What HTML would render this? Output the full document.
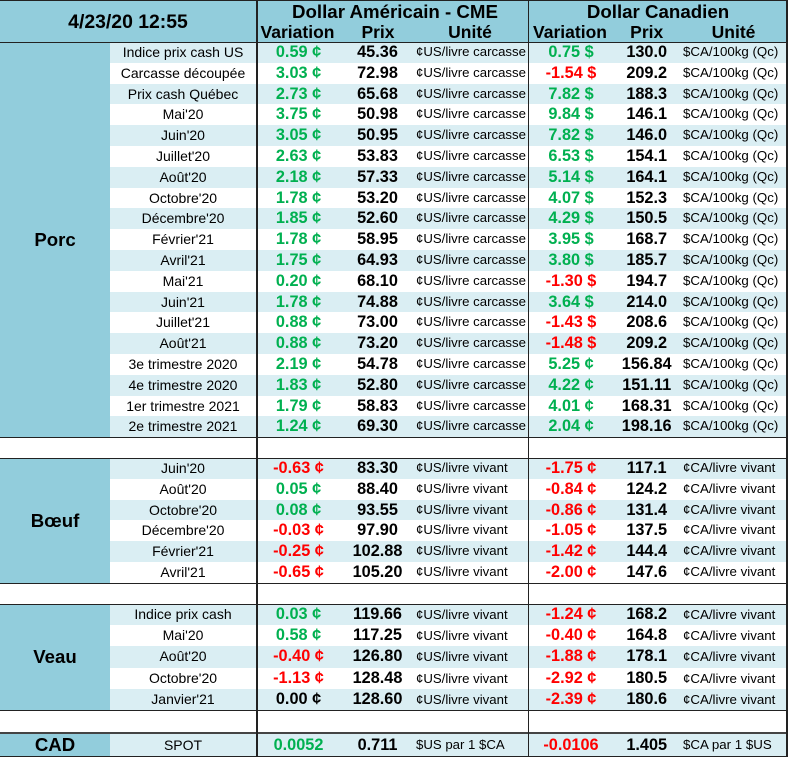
<!DOCTYPE html>
<html><head><meta charset="utf-8"><style>
*{margin:0;padding:0;box-sizing:border-box}
html,body{width:789px;height:757px;background:#fff;overflow:hidden}
body{position:relative;font-family:"Liberation Sans",Arial,sans-serif;color:#000}
.abs{position:absolute}
.hd{position:absolute;left:0;top:0;width:786px;height:42px;background:#92CDDC}
.ht{position:absolute;font-weight:bold;white-space:nowrap;text-align:center}
.lab{position:absolute;left:0;width:110px;background:#92CDDC;display:flex;align-items:center;justify-content:center;font-weight:bold;font-size:18.6px}
.r{position:absolute;left:110px;width:676px;height:20.8px;line-height:20.8px;white-space:nowrap}
.a{background:#DAEEF3}
.r span{position:absolute;top:0}
.n{left:0;width:146px;text-align:center;font-size:14px}
.v1{left:148px;width:81px;text-align:center;font-weight:bold;font-size:16.3px}
.p1{left:235px;width:65px;text-align:center;font-weight:bold;font-size:16.3px}
.u1{left:306px;font-size:13.2px}
.v2{left:420px;width:82px;text-align:center;font-weight:bold;font-size:16.3px}
.p2{left:504px;width:65.4px;text-align:center;font-weight:bold;font-size:16.3px}
.u2{left:573px;font-size:13.3px}
.g{color:#00B050}
.d{color:#FF0000}
.hl{position:absolute;left:0;width:787px;height:1px;background:#222}
.vl{position:absolute;top:0;width:1.5px;height:757px;background:#222}
</style></head><body>
<div class="hd"></div>
<div class="ht" style="left:0;width:256px;top:1px;height:42px;line-height:42px;font-size:19.4px">4/23/20 12:55</div>
<div class="ht" style="left:292px;width:200px;top:0.5px;height:22px;line-height:22px;font-size:18.7px">Dollar Américain - CME</div>
<div class="ht" style="left:558px;width:200px;top:0.5px;height:22px;line-height:22px;font-size:18.7px">Dollar Canadien</div>
<div class="ht" style="left:247.5px;width:100px;top:21.5px;height:20px;line-height:20px;font-size:17.5px">Variation</div>
<div class="ht" style="left:338px;width:80px;top:21.5px;height:20px;line-height:20px;font-size:17.5px">Prix</div>
<div class="ht" style="left:430px;width:80px;top:21.5px;height:20px;line-height:20px;font-size:17.5px">Unité</div>
<div class="ht" style="left:520px;width:100px;top:21.5px;height:20px;line-height:20px;font-size:17.5px">Variation</div>
<div class="ht" style="left:606.7px;width:80px;top:21.5px;height:20px;line-height:20px;font-size:17.5px">Prix</div>
<div class="ht" style="left:693.5px;width:80px;top:21.5px;height:20px;line-height:20px;font-size:17.5px">Unité</div>

<div class="lab" style="top:42px;height:395px">Porc</div>
<div class="lab" style="top:458px;height:125px">Bœuf</div>
<div class="lab" style="top:604px;height:106px">Veau</div>
<div class="lab" style="top:733px;height:23px">CAD</div>

<!-- Porc -->
<div class="r a" style="top:42px"><span class="n">Indice prix cash US</span><span class="v1 g">0.59 ¢</span><span class="p1">45.36</span><span class="u1">¢US/livre carcasse</span><span class="v2 g">0.75 $</span><span class="p2">130.0</span><span class="u2">$CA/100kg (Qc)</span></div>
<div class="r" style="top:62.8px"><span class="n">Carcasse découpée</span><span class="v1 g">3.03 ¢</span><span class="p1">72.98</span><span class="u1">¢US/livre carcasse</span><span class="v2 d">-1.54 $</span><span class="p2">209.2</span><span class="u2">$CA/100kg (Qc)</span></div>
<div class="r a" style="top:83.6px"><span class="n">Prix cash Québec</span><span class="v1 g">2.73 ¢</span><span class="p1">65.68</span><span class="u1">¢US/livre carcasse</span><span class="v2 g">7.82 $</span><span class="p2">188.3</span><span class="u2">$CA/100kg (Qc)</span></div>
<div class="r" style="top:104.4px"><span class="n">Mai'20</span><span class="v1 g">3.75 ¢</span><span class="p1">50.98</span><span class="u1">¢US/livre carcasse</span><span class="v2 g">9.84 $</span><span class="p2">146.1</span><span class="u2">$CA/100kg (Qc)</span></div>
<div class="r a" style="top:125.2px"><span class="n">Juin'20</span><span class="v1 g">3.05 ¢</span><span class="p1">50.95</span><span class="u1">¢US/livre carcasse</span><span class="v2 g">7.82 $</span><span class="p2">146.0</span><span class="u2">$CA/100kg (Qc)</span></div>
<div class="r" style="top:146px"><span class="n">Juillet'20</span><span class="v1 g">2.63 ¢</span><span class="p1">53.83</span><span class="u1">¢US/livre carcasse</span><span class="v2 g">6.53 $</span><span class="p2">154.1</span><span class="u2">$CA/100kg (Qc)</span></div>
<div class="r a" style="top:166.8px"><span class="n">Août'20</span><span class="v1 g">2.18 ¢</span><span class="p1">57.33</span><span class="u1">¢US/livre carcasse</span><span class="v2 g">5.14 $</span><span class="p2">164.1</span><span class="u2">$CA/100kg (Qc)</span></div>
<div class="r" style="top:187.6px"><span class="n">Octobre'20</span><span class="v1 g">1.78 ¢</span><span class="p1">53.20</span><span class="u1">¢US/livre carcasse</span><span class="v2 g">4.07 $</span><span class="p2">152.3</span><span class="u2">$CA/100kg (Qc)</span></div>
<div class="r a" style="top:208.4px"><span class="n">Décembre'20</span><span class="v1 g">1.85 ¢</span><span class="p1">52.60</span><span class="u1">¢US/livre carcasse</span><span class="v2 g">4.29 $</span><span class="p2">150.5</span><span class="u2">$CA/100kg (Qc)</span></div>
<div class="r" style="top:229.2px"><span class="n">Février'21</span><span class="v1 g">1.78 ¢</span><span class="p1">58.95</span><span class="u1">¢US/livre carcasse</span><span class="v2 g">3.95 $</span><span class="p2">168.7</span><span class="u2">$CA/100kg (Qc)</span></div>
<div class="r a" style="top:250px"><span class="n">Avril'21</span><span class="v1 g">1.75 ¢</span><span class="p1">64.93</span><span class="u1">¢US/livre carcasse</span><span class="v2 g">3.80 $</span><span class="p2">185.7</span><span class="u2">$CA/100kg (Qc)</span></div>
<div class="r" style="top:270.8px"><span class="n">Mai'21</span><span class="v1 g">0.20 ¢</span><span class="p1">68.10</span><span class="u1">¢US/livre carcasse</span><span class="v2 d">-1.30 $</span><span class="p2">194.7</span><span class="u2">$CA/100kg (Qc)</span></div>
<div class="r a" style="top:291.6px"><span class="n">Juin'21</span><span class="v1 g">1.78 ¢</span><span class="p1">74.88</span><span class="u1">¢US/livre carcasse</span><span class="v2 g">3.64 $</span><span class="p2">214.0</span><span class="u2">$CA/100kg (Qc)</span></div>
<div class="r" style="top:312.4px"><span class="n">Juillet'21</span><span class="v1 g">0.88 ¢</span><span class="p1">73.00</span><span class="u1">¢US/livre carcasse</span><span class="v2 d">-1.43 $</span><span class="p2">208.6</span><span class="u2">$CA/100kg (Qc)</span></div>
<div class="r a" style="top:333.2px"><span class="n">Août'21</span><span class="v1 g">0.88 ¢</span><span class="p1">73.20</span><span class="u1">¢US/livre carcasse</span><span class="v2 d">-1.48 $</span><span class="p2">209.2</span><span class="u2">$CA/100kg (Qc)</span></div>
<div class="r" style="top:354px"><span class="n">3e trimestre 2020</span><span class="v1 g">2.19 ¢</span><span class="p1">54.78</span><span class="u1">¢US/livre carcasse</span><span class="v2 g">5.25 ¢</span><span class="p2">156.84</span><span class="u2">$CA/100kg (Qc)</span></div>
<div class="r a" style="top:374.8px"><span class="n">4e trimestre 2020</span><span class="v1 g">1.83 ¢</span><span class="p1">52.80</span><span class="u1">¢US/livre carcasse</span><span class="v2 g">4.22 ¢</span><span class="p2">151.11</span><span class="u2">$CA/100kg (Qc)</span></div>
<div class="r" style="top:395.6px"><span class="n">1er trimestre 2021</span><span class="v1 g">1.79 ¢</span><span class="p1">58.83</span><span class="u1">¢US/livre carcasse</span><span class="v2 g">4.01 ¢</span><span class="p2">168.31</span><span class="u2">$CA/100kg (Qc)</span></div>
<div class="r a" style="top:416.4px"><span class="n">2e trimestre 2021</span><span class="v1 g">1.24 ¢</span><span class="p1">69.30</span><span class="u1">¢US/livre carcasse</span><span class="v2 g">2.04 ¢</span><span class="p2">198.16</span><span class="u2">$CA/100kg (Qc)</span></div>

<!-- Boeuf -->
<div class="r a" style="top:458px"><span class="n">Juin'20</span><span class="v1 d">-0.63 ¢</span><span class="p1">83.30</span><span class="u1">¢US/livre vivant</span><span class="v2 d">-1.75 ¢</span><span class="p2">117.1</span><span class="u2">¢CA/livre vivant</span></div>
<div class="r" style="top:478.8px"><span class="n">Août'20</span><span class="v1 g">0.05 ¢</span><span class="p1">88.40</span><span class="u1">¢US/livre vivant</span><span class="v2 d">-0.84 ¢</span><span class="p2">124.2</span><span class="u2">¢CA/livre vivant</span></div>
<div class="r a" style="top:499.6px"><span class="n">Octobre'20</span><span class="v1 g">0.08 ¢</span><span class="p1">93.55</span><span class="u1">¢US/livre vivant</span><span class="v2 d">-0.86 ¢</span><span class="p2">131.4</span><span class="u2">¢CA/livre vivant</span></div>
<div class="r" style="top:520.4px"><span class="n">Décembre'20</span><span class="v1 d">-0.03 ¢</span><span class="p1">97.90</span><span class="u1">¢US/livre vivant</span><span class="v2 d">-1.05 ¢</span><span class="p2">137.5</span><span class="u2">¢CA/livre vivant</span></div>
<div class="r a" style="top:541.2px"><span class="n">Février'21</span><span class="v1 d">-0.25 ¢</span><span class="p1">102.88</span><span class="u1">¢US/livre vivant</span><span class="v2 d">-1.42 ¢</span><span class="p2">144.4</span><span class="u2">¢CA/livre vivant</span></div>
<div class="r" style="top:562px"><span class="n">Avril'21</span><span class="v1 d">-0.65 ¢</span><span class="p1">105.20</span><span class="u1">¢US/livre vivant</span><span class="v2 d">-2.00 ¢</span><span class="p2">147.6</span><span class="u2">¢CA/livre vivant</span></div>

<!-- Veau -->
<div class="r a" style="top:604px;height:21.2px;line-height:21.2px"><span class="n">Indice prix cash</span><span class="v1 g">0.03 ¢</span><span class="p1">119.66</span><span class="u1">¢US/livre vivant</span><span class="v2 d">-1.24 ¢</span><span class="p2">168.2</span><span class="u2">¢CA/livre vivant</span></div>
<div class="r" style="top:625.2px;height:21.2px;line-height:21.2px"><span class="n">Mai'20</span><span class="v1 g">0.58 ¢</span><span class="p1">117.25</span><span class="u1">¢US/livre vivant</span><span class="v2 d">-0.40 ¢</span><span class="p2">164.8</span><span class="u2">¢CA/livre vivant</span></div>
<div class="r a" style="top:646.4px;height:21.2px;line-height:21.2px"><span class="n">Août'20</span><span class="v1 d">-0.40 ¢</span><span class="p1">126.80</span><span class="u1">¢US/livre vivant</span><span class="v2 d">-1.88 ¢</span><span class="p2">178.1</span><span class="u2">¢CA/livre vivant</span></div>
<div class="r" style="top:667.6px;height:21.2px;line-height:21.2px"><span class="n">Octobre'20</span><span class="v1 d">-1.13 ¢</span><span class="p1">128.48</span><span class="u1">¢US/livre vivant</span><span class="v2 d">-2.92 ¢</span><span class="p2">180.5</span><span class="u2">¢CA/livre vivant</span></div>
<div class="r a" style="top:688.8px;height:21.2px;line-height:21.2px"><span class="n">Janvier'21</span><span class="v1">0.00 ¢</span><span class="p1">128.60</span><span class="u1">¢US/livre vivant</span><span class="v2 d">-2.39 ¢</span><span class="p2">180.6</span><span class="u2">¢CA/livre vivant</span></div>

<!-- CAD -->
<div class="r a" style="top:734px;height:22px;line-height:22px"><span class="n">SPOT</span><span class="v1 g">0.0052</span><span class="p1">0.711</span><span class="u1">$US par 1 $CA</span><span class="v2 d">-0.0106</span><span class="p2">1.405</span><span class="u2">$CA par 1 $US</span></div>

<!-- lines -->
<div class="hl" style="top:0"></div>
<div class="hl" style="top:42px"></div>
<div class="hl" style="top:436.7px"></div>
<div class="hl" style="top:457.7px"></div>
<div class="hl" style="top:582.7px"></div>
<div class="hl" style="top:603.7px"></div>
<div class="hl" style="top:709.7px"></div>
<div class="hl" style="top:732px;height:2px;background:#444"></div>
<div class="hl" style="top:755.5px"></div>
<div class="vl" style="left:256px"></div>
<div class="vl" style="left:527.5px"></div>
<div class="vl" style="left:786px"></div>
</body></html>
